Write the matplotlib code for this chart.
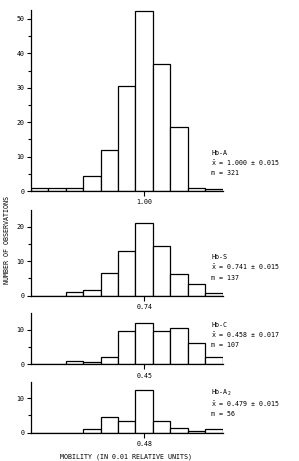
import numpy as np
import matplotlib
matplotlib.use("Agg")
import matplotlib.pyplot as plt
from matplotlib.ticker import MultipleLocator, FixedLocator

plt.rcParams['font.family'] = ['DejaVu Sans Mono']
plt.rcParams['mathtext.fontset'] = 'custom'
plt.rcParams['mathtext.rm'] = 'DejaVu Sans Mono'
plt.rcParams['mathtext.it'] = 'DejaVu Sans Mono'

# counts per mobility bin (11 bins)
hb_a = [1, 1, 1, 4.5, 12, 30.5, 52.3, 37, 18.7, 1, 0.5]
hb_s = [0, 0, 1, 1.8, 6.5, 13, 21, 14.3, 6.4, 3.5, 0.7]
hb_c = [0, 0, 0.9, 0.7, 2.0, 9.6, 12.1, 9.6, 10.5, 6.3, 2.2]
hb_a2 = [0, 0, 0, 1.2, 4.5, 3.3, 12.5, 3.4, 1.5, 0.5, 1.0]

names = ["Hb-A", "Hb-S", "Hb-C", "Hb-A$_\\mathrm{2}$"]
means = ["1.000", "0.741", "0.458", "0.479"]
sds = ["0.015", "0.015", "0.017", "0.015"]
ns = ["321", "137", "107", "56"]
center_labels = ["1.00", "0.74", "0.45", "0.48"]
series = [hb_a, hb_s, hb_c, hb_a2]

W, H = 299, 461
fig = plt.figure(figsize=(W / 100, H / 100), dpi=100)

# (bottom px from top, top px from top, ymax, labelled ticks)
panels = [
    (191.0, 10.0, 52.6, [0, 10, 20, 30, 40, 50]),
    (295.7, 210.0, 24.9, [0, 10, 20]),
    (364.3, 313.3, 14.8, [0, 10]),
    (432.7, 381.7, 14.8, [0, 10]),
]
text_y = [(153.3, 163.3, 173.3), (256.7, 267.3, 278.3),
          (325.0, 335.0, 344.5), (393.3, 404.5, 414.0)]

left, right = 30.7, 222.7
x = np.arange(11)
fs = 4.8

for i, (bot, top, ymax, yt) in enumerate(panels):
    ax = fig.add_axes([left / W, (H - bot) / H, (right - left) / W, (bot - top) / H])
    ax.bar(x, series[i], width=1.0, facecolor='white', edgecolor='black',
           linewidth=0.9)
    ax.set_xlim(-0.5, 10.5)
    ax.set_ylim(0, ymax)
    for s in ['top', 'right']:
        ax.spines[s].set_visible(False)
    for s in ['left', 'bottom']:
        ax.spines[s].set_linewidth(0.9)
    ax.yaxis.set_major_locator(FixedLocator(yt))
    ax.yaxis.set_minor_locator(MultipleLocator(5))
    ax.set_xticks([6])
    ax.set_xticklabels([center_labels[i]])
    ax.tick_params(axis='y', which='major', length=3, width=0.8, pad=1.5,
                   labelsize=fs)
    ax.tick_params(axis='y', which='minor', length=2.5, width=0.8)
    ax.tick_params(axis='x', length=3.5, width=0.8, pad=2.5, labelsize=fs)

    ty = text_y[i]
    fig.text(211 / W, 1 - ty[0] / H, names[i], fontsize=fs, va='center')
    fig.text(211 / W, 1 - ty[1] / H,
             "$\\bar{\\mathrm{x}}$ = %s \u00b1 %s" % (means[i], sds[i]),
             fontsize=fs, va='center')
    fig.text(211 / W, 1 - ty[2] / H, "m = %s" % ns[i], fontsize=fs, va='center')

fig.text(7 / W, 1 - 240 / H, "NUMBER OF OBSERVATIONS", rotation=90,
         fontsize=fs, ha='center', va='center')
fig.text(126 / W, 1 - 457 / H, "MOBILITY (IN 0.01 RELATIVE UNITS)",
         fontsize=fs, ha='center', va='center')

fig.savefig("out.png", dpi=100)
